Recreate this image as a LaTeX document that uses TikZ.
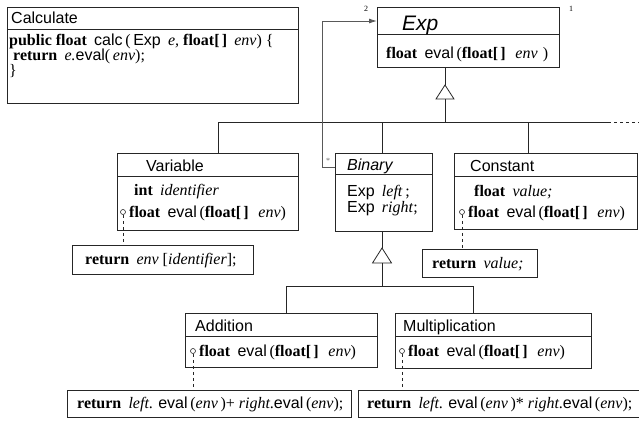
\documentclass[tikz,border=0pt]{standalone}
\usepackage{fontspec}
\setmainfont{Liberation Serif}
\setsansfont{Liberation Sans}
\usetikzlibrary{arrows.meta}
\newcommand\kw[1]{\textbf{#1}}
\newcommand\vn[1]{\textit{#1}}
\newcommand\sn[1]{\textsf{#1}}
\newcommand\gp{\hspace{0.45em}}
\newcommand\brk{\kw{[\kern2.2pt]}}
\tikzset{
  box/.style={draw=black!85, line width=0.8pt, inner sep=0pt, anchor=north west},
  txt/.style={anchor=base west, inner sep=0pt, font=\fontsize{16}{17}\selectfont},
  hdr/.style={anchor=base west, inner sep=0pt, font=\sffamily\fontsize{16}{17}\selectfont},
  conn/.style={draw=black!85, line width=0.8pt},
  assoc/.style={draw=black!65, line width=0.9pt},
  notel/.style={draw=black!85, dashed, line width=0.7pt},
  port/.style={circle, draw=black!85, fill=white, inner sep=0pt, minimum size=5pt, line width=0.6pt},
  mult/.style={inner sep=0pt, font=\fontsize{8}{9}\selectfont},
}
\begin{document}
\begin{tikzpicture}[x=1pt,y=-1pt]
\useasboundingbox (0,0) rectangle (639,421);
% ---------- Calculate
\node[box, minimum width=291pt, minimum height=96pt] (calc) at (7,7) {};
\draw[conn] ([yshift=-22pt]calc.north west) -- ([yshift=-22pt]calc.north east);
\node[hdr] (calcT) at (11,23) {Calculate};
\node[txt] (calc1) at (9,45) {\kw{public float}\gp\sn{calc}\,(\,\sn{Exp}\gp\vn{e,} \kw{float}\brk\gp\vn{env}) \{};
\node[txt] (calc2) at (13,60) {\kw{return}\gp\vn{e.}\sn{eval}(\,\vn{env});};
\node[txt] (calc3) at (9,75) {\}};
% ---------- Exp
\node[box, minimum width=182pt, minimum height=60pt] (exp) at (377,7) {};
\draw[conn] ([yshift=-27pt]exp.north west) -- ([yshift=-27pt]exp.north east);
\node[anchor=base west, inner sep=0pt, font=\sffamily\itshape\fontsize{21}{24}\selectfont] (expT) at (402,30) {Exp};
\node[txt] (exp1) at (386,58) {\kw{float}\gp\sn{eval}\,(\kw{float}\brk\hspace{0.6em}\vn{env}\,\,)};
\node[mult] (m2) at (366,9) {2};
\node[mult] (m1) at (571,9) {1};
% ---------- Variable
\node[box, minimum width=181pt, minimum height=77pt] (var) at (117,153) {};
\draw[conn] ([yshift=-23pt]var.north west) -- ([yshift=-23pt]var.north east);
\node[hdr] (varT) at (146,171) {Variable};
\node[txt] (var1) at (134,195) {\kw{int}\gp\vn{identifier}};
\node[port] (varP) at (123,212) {};
\node[txt] (var2) at (129,217) {\kw{float}\gp\sn{eval}\,(\kw{float}\brk\hspace{0.6em}\vn{env})};
\node[box, minimum width=181pt, minimum height=29pt] (varR) at (72,245) {};
\node[txt] (varRT) at (85,264) {\kw{return}\gp\vn{env} [\vn{identifier}];};
\draw[notel] (varP.south) -- (varP.south |- varR.north);
% ---------- Binary
\node[box, minimum width=97pt, minimum height=78pt] (bin) at (335,153) {};
\draw[conn] ([yshift=-21pt]bin.north west) -- ([yshift=-21pt]bin.north east);
\node[anchor=base west, inner sep=0pt, font=\sffamily\itshape\fontsize{16}{17}\selectfont] (binT) at (347,170) {Binary};
\node[txt] (bin1) at (347,196) {\sn{Exp}\gp\vn{left}\,;};
\node[txt] (bin2) at (347,212) {\sn{Exp}\gp\vn{right};};
% ---------- Constant
\node[box, minimum width=183pt, minimum height=76pt] (con) at (454,153) {};
\draw[conn] ([yshift=-23pt]con.north west) -- ([yshift=-23pt]con.north east);
\node[hdr] (conT) at (470,171) {Constant};
\node[txt] (con1) at (474,196) {\kw{float}\gp\vn{value;}};
\node[port] (conP) at (462,212) {};
\node[txt] (con2) at (468,217) {\kw{float}\gp\sn{eval}\,(\kw{float}\brk\hspace{0.6em}\vn{env})};
\node[box, minimum width=115pt, minimum height=28pt] (conR) at (422,249) {};
\node[txt] (conRT) at (432,268) {\kw{return}\gp\vn{value;}};
\draw[notel] (conP.south) -- (conP.south |- conR.north);
% ---------- Addition
\node[box, minimum width=192pt, minimum height=54pt] (add) at (185,313) {};
\draw[conn] ([yshift=-23pt]add.north west) -- ([yshift=-23pt]add.north east);
\node[hdr] (addT) at (195,331) {Addition};
\node[port] (addP) at (193,351) {};
\node[txt] (add1) at (199,356) {\kw{float}\gp\sn{eval}\,(\kw{float}\brk\hspace{0.6em}\vn{env})};
\node[box, minimum width=284pt, minimum height=27pt] (addR) at (67,390) {};
\node[txt] (addRT) at (77,408) {\kw{return}\gp\vn{left}. \sn{eval}\,(\vn{env}\,)+ \vn{right}.\sn{eval}\,(\vn{env});};
\draw[notel] (addP.south) -- (addP.south |- addR.north);
% ---------- Multiplication
\node[box, minimum width=196pt, minimum height=55pt] (mul) at (395,313) {};
\draw[conn] ([yshift=-23pt]mul.north west) -- ([yshift=-23pt]mul.north east);
\node[hdr] (mulT) at (403,331) {Multiplication};
\node[port] (mulP) at (402,351) {};
\node[txt] (mul1) at (408,356) {\kw{float}\gp\sn{eval}\,(\kw{float}\brk\hspace{0.6em}\vn{env})};
\node[box, minimum width=285pt, minimum height=27pt] (mulR) at (358,390) {};
\node[txt] (mulRT) at (367,408) {\kw{return}\gp\vn{left}. \sn{eval}\,(\vn{env}\,)* \vn{right}.\sn{eval}\,(\vn{env});};
\draw[notel] (mulP.south) -- (mulP.south |- mulR.north);
% ---------- generalization Exp
\coordinate (t1) at (445,85);
\coordinate (b1) at (445,99);
\coordinate (j1) at (445,122);
\draw[conn] (t1 |- exp.south) -- (t1);
\draw[conn] (t1) -- ++(9,14) -- ++(-18,0) -- cycle;
\draw[conn] (b1) -- (j1);
\coordinate (busL) at (218,122);
\coordinate (busR) at (608,122);
\coordinate (busE) at (639,122);
\draw[conn] (busL) -- (busR);
\draw[conn, dashed] (busR) -- (busE);
\draw[conn] (busL) -- (busL |- var.north);
\coordinate (dB) at (382,122);
\draw[conn] (dB) -- (dB |- bin.north);
\coordinate (dC) at (528,122);
\draw[conn] (dC) -- (dC |- con.north);
% ---------- generalization Binary
\coordinate (t2) at (382,248);
\coordinate (b2) at (382,263);
\coordinate (j2) at (382,286);
\draw[conn] (t2 |- bin.south) -- (t2);
\draw[conn] (t2) -- ++(9.5,15) -- ++(-19,0) -- cycle;
\draw[conn] (b2) -- (j2);
\coordinate (bus2L) at (286,286);
\coordinate (bus2R) at (473,286);
\draw[conn] (bus2L) -- (bus2R);
\draw[conn] (bus2L) -- (bus2L |- add.north);
\draw[conn] (bus2R) -- (bus2R |- mul.north);
% ---------- association Binary -> Exp
\coordinate (a1) at (322,167);
\coordinate (a2) at (322,21);
\draw[assoc, -{Latex[length=8pt,width=5pt]}] (bin.west |- a1) -- (a1) -- (a2) -- (exp.west |- a2);
\node[mult, text=black!60] (ms) at (328,161) {*};
\end{tikzpicture}
\end{document}
